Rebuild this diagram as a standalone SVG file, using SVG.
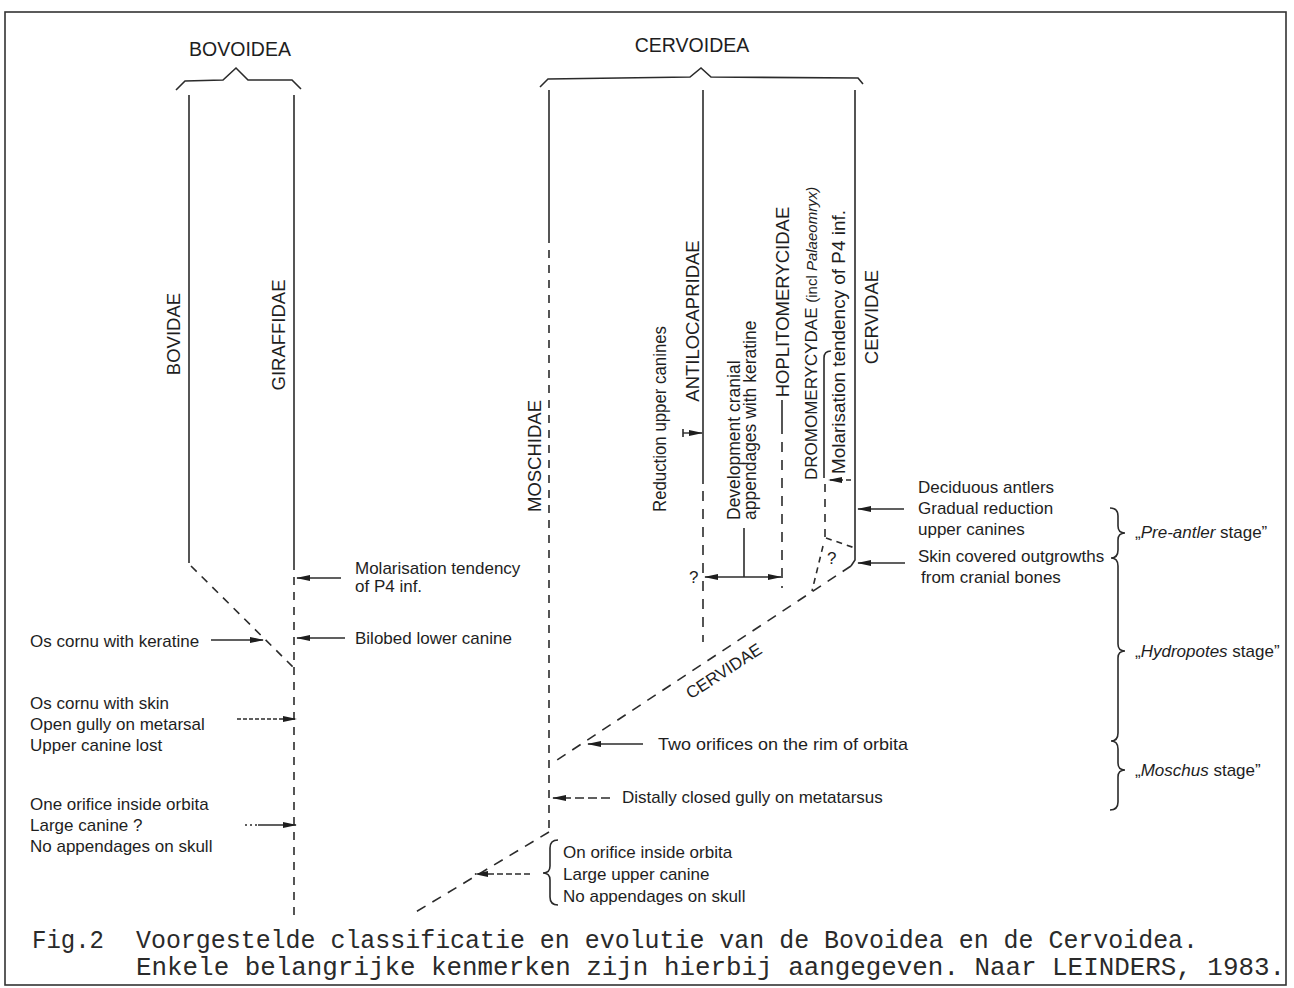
<svg xmlns="http://www.w3.org/2000/svg" width="1294" height="988" viewBox="0 0 1294 988">
<defs>
<style>
.t{font-family:"Liberation Sans",Arial,sans-serif;font-size:17px;fill:#1e1e1e}
.lab{font-size:18.5px;text-anchor:middle}
.hd{font-size:19.5px;text-anchor:middle}
.rt{font-size:17.5px}
.cap{font-family:"Liberation Mono","Courier New",monospace;font-size:26px;fill:#2a2a2a}
.s{stroke:#2b2b2b;stroke-width:1.6;fill:none}
.d{stroke-dasharray:8 7}
.dd{stroke-dasharray:10 8}
.a{stroke:#2b2b2b;stroke-width:1.4;fill:none;marker-end:url(#ah)}
</style>
<marker id="ah" viewBox="0 0 14 7" refX="13" refY="3.5" markerWidth="14" markerHeight="7" markerUnits="userSpaceOnUse" orient="auto"><path d="M0,0.5 L14,3.5 L0,6.5 z" fill="#1e1e1e"/></marker>
</defs>
<rect width="1294" height="988" fill="#fff"/>
<rect x="5" y="12" width="1281" height="973" fill="none" stroke="#333" stroke-width="1.6"/>

<g id="bovoidea">
<text class="t hd" x="240" y="56">BOVOIDEA</text>
<path class="s" d="M176,90 L185,81 L223,80 L236,68 L248,80 L292,80 L301,89"/>
</g>
<g id="bovidae">
<text class="t lab" transform="translate(180,334) rotate(-90)">BOVIDAE</text>
<path class="s" d="M189,95 V563"/>
<path class="s d" d="M191,566 L294,668"/>
</g>
<g id="giraffidae">
<text class="t lab" transform="translate(285,335) rotate(-90)">GIRAFFIDAE</text>
<path class="s" d="M294,95 V570"/>
<path class="s d" d="M294,577 V915"/>
</g>

<g id="cervoidea">
<text class="t hd" x="692" y="52">CERVOIDEA</text>
<path class="s" d="M540,87 L548,79 L690,77 L701,68 L711,77 L858,78 L863,84"/>
</g>
<g id="moschidae">
<text class="t lab" transform="translate(541,456) rotate(-90)">MOSCHIDAE</text>
<path class="s" d="M549,90 V243"/>
<path class="s d" d="M549,250 V832"/>
</g>
<g id="antilocapridae">
<text class="t lab" transform="translate(699,321) rotate(-90)">ANTILOCAPRIDAE</text>
<path class="s" d="M703,90 V484"/>
<path class="s dd" d="M703,491 V642"/>
</g>
<g id="hoplitomerycidae">
<text class="t lab" transform="translate(789,302) rotate(-90)">HOPLITOMERYCIDAE</text>
<path class="s" d="M782,400 V434"/>
<path class="s dd" d="M782,442 V588"/>
</g>
<g id="dromomerycydae">
<text class="t" font-size="18.5" transform="translate(817,480) rotate(-90)">DROMOMERYCYDAE <tspan font-size="15">(incl </tspan><tspan font-size="15" font-style="italic">Palaeomryx)</tspan></text>
<path class="s" d="M831,351 Q824,351 824,358 V478"/>
<path class="s d" d="M825,484 V537"/>
<path class="s" stroke-dasharray="6 5" d="M826,538 L855,548"/>
<path class="s" stroke-dasharray="6 5" d="M823,546 L812,591"/>
<text class="t" x="827" y="564">?</text>
</g>
<g id="cervidae">
<text class="t lab" transform="translate(878,317) rotate(-90)">CERVIDAE</text>
<path class="s" d="M855,90 V560 L851,566"/>
<path class="s dd" d="M851,566 L551,764"/>
<text class="t" text-anchor="middle" transform="translate(727,676) rotate(-33)">CERVIDAE</text>
</g>
<g id="stem">
<path class="s dd" d="M549,832 L414,913"/>
</g>

<g id="annotations">
<text class="t rt" text-anchor="middle" transform="translate(666,419) rotate(-90)" textLength="186" lengthAdjust="spacingAndGlyphs">Reduction upper canines</text>
<text class="t rt" transform="translate(740,520) rotate(-90)">Development cranial</text>
<text class="t rt" transform="translate(756,520) rotate(-90)">appendages with keratine</text>
<text class="t rt" transform="translate(845,474) rotate(-90)" textLength="264" lengthAdjust="spacingAndGlyphs">Molarisation tendency of P4 inf.</text>
<text class="t" x="689" y="583">?</text>

<text class="t" x="355" y="574">Molarisation tendency</text>
<text class="t" x="355" y="592">of P4 inf.</text>
<text class="t" x="355" y="644">Bilobed lower canine</text>
<text class="t" x="30" y="647">Os cornu with keratine</text>
<text class="t" x="30" y="709">Os cornu with skin</text>
<text class="t" x="30" y="730">Open gully on metarsal</text>
<text class="t" x="30" y="751">Upper canine lost</text>
<text class="t" x="30" y="810">One orifice inside orbita</text>
<text class="t" x="30" y="831">Large canine ?</text>
<text class="t" x="30" y="852">No appendages on skull</text>

<text class="t" x="918" y="493">Deciduous antlers</text>
<text class="t" x="918" y="514">Gradual reduction</text>
<text class="t" x="918" y="535">upper canines</text>
<text class="t" x="918" y="562">Skin covered outgrowths</text>
<text class="t" x="921" y="583">from cranial bones</text>

<text class="t" x="658" y="750" textLength="250" lengthAdjust="spacingAndGlyphs">Two orifices on the rim of orbita</text>
<text class="t" x="622" y="803">Distally closed gully on metatarsus</text>
<text class="t" x="563" y="858">On orifice inside orbita</text>
<text class="t" x="563" y="880">Large upper canine</text>
<text class="t" x="563" y="902">No appendages on skull</text>

<text class="t" x="1135" y="538">„<tspan font-style="italic">Pre-antler</tspan> stage”</text>
<text class="t" x="1135" y="657">„<tspan font-style="italic">Hydropotes</tspan> stage”</text>
<text class="t" x="1135" y="776">„<tspan font-style="italic">Moschus</tspan> stage”</text>
<path class="s" stroke-width="1.4" d="M1110,508 Q1118,508 1118,516 L1118,526 Q1118,533 1125,533 Q1118,533 1118,540 L1118,550 Q1118,558 1111,558 Q1118,558 1118,566 L1118,644 Q1118,651 1125,651 Q1118,651 1118,658 L1118,733 Q1118,741 1111,741 Q1118,741 1118,749 L1118,763 Q1118,770 1125,770 Q1118,770 1118,777 L1118,802 Q1118,810 1110,810"/>
<path class="s" stroke-width="1.4" d="M558,840 Q550,840 550,848 L550,866 Q550,873 543,873 Q550,873 550,880 L550,897 Q550,905 558,905"/>
</g>

<g id="connectors">
<path class="a" d="M341,578 H297"/>
<path class="a" d="M345,638 H297"/>
<path class="a" d="M211,640 H263"/>
<path class="a" stroke-dasharray="4 2" d="M237,719 H296"/>
<path class="s" stroke-width="1.4" stroke-dasharray="2 3" d="M245,825 H257"/>
<path class="a" d="M258,825 H296"/>
<path class="s" stroke-width="1.4" d="M683,429 V437"/>
<path class="a" d="M683,433 H702"/>
<path class="s" stroke-width="1.4" d="M744,528 V577"/>
<path class="a" d="M744,577 H705"/>
<path class="a" d="M744,577 H781"/>
<path class="a" stroke-dasharray="5 3" d="M851,480 H829"/>
<path class="a" d="M904,509 H858"/>
<path class="a" d="M905,563 H858"/>
<path class="a" d="M643,744 H588"/>
<path class="a" stroke-dasharray="9 4" d="M610,798 H553"/>
<path class="a" stroke-dasharray="6 3" d="M530,874 H475"/>
</g>

<g id="caption">
<text class="cap" x="32" y="948" textLength="72" lengthAdjust="spacingAndGlyphs">Fig.2</text>
<text class="cap" x="136" y="948" textLength="1062" lengthAdjust="spacingAndGlyphs">Voorgestelde classificatie en evolutie van de Bovoidea en de Cervoidea.</text>
<text class="cap" x="136" y="975" textLength="1149" lengthAdjust="spacingAndGlyphs">Enkele belangrijke kenmerken zijn hierbij aangegeven. Naar LEINDERS, 1983.</text>
</g>
</svg>
